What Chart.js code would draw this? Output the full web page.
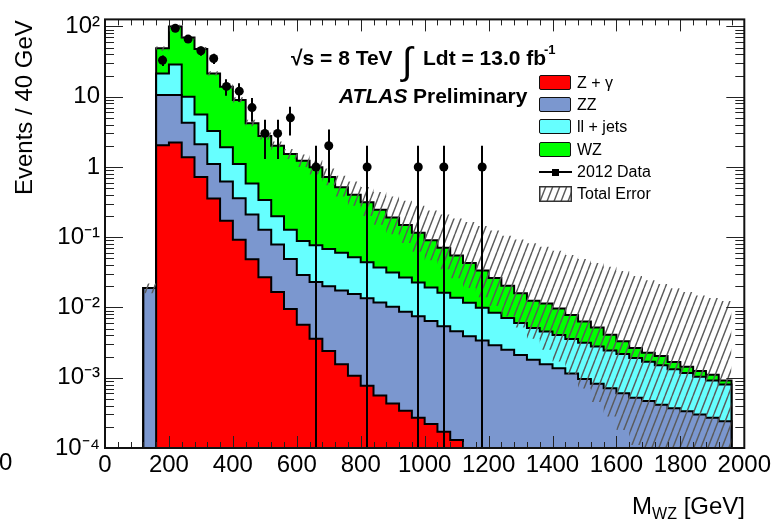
<!DOCTYPE html>
<html><head><meta charset="utf-8">
<script src="https://cdn.jsdelivr.net/npm/chart.js@4.4.1/dist/chart.umd.min.js"></script>
<style>
html,body{margin:0;padding:0;background:#fff;}
#wrap{position:relative;width:774px;height:522px;overflow:hidden;font-family:'Liberation Sans',Arial,Helvetica,sans-serif;color:#000;}
#c{position:absolute;left:0;top:0;}
.t{position:absolute;white-space:nowrap;}
.box{position:absolute;left:539px;width:30px;height:13px;border:1.5px solid #111;border-radius:2px;}
</style></head><body>
<div id="wrap">
<canvas id="c" width="774" height="522"></canvas>
</div>
<script>
// ---- data ----
const BIN_EDGES = [120,160,200,240,280,320,360,400,440,480,520,560,600,640,680,720,760,800,840,880,920,960,1000,1040,1080,1120,1160,1200,1240,1280,1320,1360,1400,1440,1480,1520,1560,1600,1640,1680,1720,1760,1800,1840,1880,1920,1960];
// cumulative stack heights (events / 40 GeV) per bin
const stackZgamma = [0,2.04,2.23,1.37,0.72,0.357,0.172,0.092,0.0486,0.027,0.0166,0.0095,0.0057,0.0036,0.0024,0.00156,0.00107,0.00077,0.00056,0.00043,0.00034,0.00027,0.00022,0.00017,0.00013,0,0,0,0,0,0,0,0,0,0,0,0,0,0,0,0,0,0,0,0,0];
const stackZZ = [0.019,10.6,10.6,4.25,2.11,1.1,0.62,0.36,0.21,0.128,0.079,0.049,0.029,0.023,0.020,0.0175,0.0155,0.0135,0.0118,0.0102,0.0087,0.0075,0.0064,0.0054,0.0046,0.0039,0.0034,0.0029,0.0025,0.0021,0.0018,0.00156,0.00137,0.00115,0.00096,0.00082,0.00071,0.0006,0.00052,0.000465,0.000414,0.000367,0.000333,0.0003,0.000269,0.000241];
const stackLLjets = [0.019,21.4,28.6,10.0,5.56,3.25,1.90,1.10,0.58,0.338,0.198,0.128,0.088,0.077,0.068,0.060,0.052,0.044,0.037,0.0315,0.0267,0.0227,0.0192,0.0162,0.0138,0.0117,0.0099,0.0084,0.0071,0.0060,0.0051,0.00456,0.00405,0.00356,0.00315,0.00278,0.00245,0.00217,0.00191,0.00169,0.0015,0.00132,0.00117,0.00103,0.00091,0.0008];
const stackWZ = [0.019,48.8,100,69.6,47.9,21.4,13.9,9.0,4.2,2.75,2.0,1.53,1.23,0.99,0.72,0.514,0.401,0.314,0.245,0.191,0.149,0.116,0.0906,0.0706,0.0551,0.0431,0.0336,0.0262,0.0204,0.0159,0.0125,0.0114,0.0097,0.0078,0.0063,0.0052,0.0041,0.0033,0.00266,0.00226,0.00204,0.00168,0.00143,0.00125,0.0011,0.00091];
// total error band edges
const totalErrUp = [0.022,52,106,74,51,23,15,9.8,4.7,3.1,2.3,1.8,1.5,1.25,0.95,0.75,0.62,0.52,0.44,0.38,0.33,0.28,0.24,0.21,0.185,0.165,0.145,0.125,0.105,0.093,0.082,0.073,0.064,0.056,0.049,0.043,0.038,0.033,0.028,0.0245,0.0215,0.0188,0.0166,0.0148,0.0136,0.0124];
const totalErrLow = [0.016,45,94,65,45,20,12.9,8.3,3.8,2.45,1.75,1.3,1.0,0.78,0.55,0.38,0.28,0.2,0.15,0.11,0.083,0.062,0.047,0.035,0.026,0.019,0.014,0.0105,0.0075,0.0052,0.0036,0.0025,0.0017,0.0011,0.0007,0.00045,0.00028,0.00018,0.00011,0,0,0,0,0,0,0];
// 2012 data
const dataMass = [180,220,260,300,340,380,420,460,500,540,580,660,700,820,980,1060,1180];
const dataEvents = [33,94,66,45,35,14,12,7,3,3,5,1,2,1,1,1,1];
const dataErr = [5.7,9.7,8.1,6.7,5.9,3.7,3.5,2.6,1.7,1.7,2.2,1,1.4,1,1,1,1];
// axes
const X_MIN = 0, X_MAX = 2000, X_STEP = 200, X_MINOR = 40;
const Y_MIN = 1e-4, Y_MAX = 125.9;
const Y_TICK_LABELS = {'-4':'10\u207B\u2074','-3':'10\u207B\u00B3','-2':'10\u207B\u00B2','-1':'10\u207B\u00B9','0':'1','1':'10','2':'10\u00B2'};
const COLORS = {zgamma:'#ff0000', zz:'#7b97cf', lljets:'#66ffff', wz:'#00ff00', hatch:'#5a5a5a'};

// ---- helpers ----
function stepPoints(vals){
  const f = v => (v > 0 ? v : Y_MIN);
  const n = vals.length;
  const pts = [{x: BIN_EDGES[0], y: Y_MIN}];
  for (let i = 0; i < n; i++) pts.push({x: BIN_EDGES[i], y: f(vals[i])});
  pts.push({x: BIN_EDGES[n], y: f(vals[n-1])});
  pts.push({x: BIN_EDGES[n], y: Y_MIN});
  return pts;
}
function makeHatch(ctx){
  const w = 7, h = 18;
  const c = document.createElement('canvas'); c.width = w; c.height = h;
  const g = c.getContext('2d');
  g.strokeStyle = COLORS.hatch; g.lineWidth = 1.4;
  for (const dx of [-w, 0, w]) { g.beginPath(); g.moveTo(dx, h); g.lineTo(dx + w, 0); g.stroke(); }
  return ctx.createPattern(c, 'repeat');
}

Chart.defaults.font.family = "'Liberation Sans', Arial, Helvetica, sans-serif";
Chart.defaults.color = '#000';
const canvas = document.getElementById('c');
const ctx = canvas.getContext('2d');
const hatch = makeHatch(ctx);

// 'before': horizontal at the bin value up to the next edge, then vertical
const stepDs = (label, vals, color, order) => ({
  label, data: stepPoints(vals), stepped: 'before', borderColor: '#000', borderWidth: 2,
  backgroundColor: color, fill: 'start', pointRadius: 0, order
});

const decorPlugin = {
  id: 'decor',
  afterDatasetsDraw(chart){
    const {ctx, chartArea: a, scales: {x, y}} = chart;
    ctx.save();
    ctx.beginPath(); ctx.rect(a.left, a.top, a.right - a.left, a.bottom - a.top); ctx.clip();
    ctx.strokeStyle = '#000'; ctx.lineWidth = 2;
    dataMass.forEach((m, i) => {
      const lo = dataEvents[i] - dataErr[i] > 0 ? dataEvents[i] - dataErr[i] : Y_MIN;
      const hi = dataEvents[i] + dataErr[i];
      const px = Math.round(x.getPixelForValue(m));
      ctx.beginPath(); ctx.moveTo(px, y.getPixelForValue(lo)); ctx.lineTo(px, y.getPixelForValue(hi)); ctx.stroke();
    });
    ctx.restore();
    ctx.save();
    ctx.strokeStyle = '#222'; ctx.lineWidth = 1;
    ctx.beginPath();
    for (let v = X_MIN; v <= X_MAX; v += X_MINOR) {
      const px = Math.round(x.getPixelForValue(v)) + 0.5;
      const len = (v % X_STEP === 0) ? 12 : 6;
      ctx.moveTo(px, a.bottom); ctx.lineTo(px, a.bottom - len);
      ctx.moveTo(px, a.top); ctx.lineTo(px, a.top + len);
    }
    for (let e = -4; e <= 2; e++) {
      for (let m = 1; m <= 9; m++) {
        const v = m * Math.pow(10, e);
        if (v < Y_MIN || v > Y_MAX) continue;
        const py = Math.round(y.getPixelForValue(v)) + 0.5;
        const len = m === 1 ? 18 : 9;
        ctx.moveTo(a.left, py); ctx.lineTo(a.left + len, py);
        ctx.moveTo(a.right, py); ctx.lineTo(a.right - len, py);
      }
    }
    ctx.stroke();
    ctx.strokeStyle = '#111'; ctx.lineWidth = 2;
    ctx.strokeRect(a.left, a.top, a.right - a.left, a.bottom - a.top);
    ctx.restore();
  }
};

new Chart(ctx, {
  type: 'line',
  data: { datasets: [
    { label: '2012 Data', data: dataMass.map((m, i) => ({x: m, y: dataEvents[i]})), showLine: false,
      pointRadius: 4.5, pointBackgroundColor: '#000', pointBorderColor: '#000', pointBorderWidth: 0, order: 0 },
    { label: 'Total Error', data: stepPoints(totalErrUp), stepped: 'before', borderWidth: 0, borderColor: 'rgba(0,0,0,0)',
      backgroundColor: hatch, fill: '+1', pointRadius: 0, order: 1 },
    { label: 'errLow', data: stepPoints(totalErrLow), stepped: 'before', borderWidth: 0, borderColor: 'rgba(0,0,0,0)',
      fill: false, pointRadius: 0, order: 1 },
    stepDs('Z + \u03B3', stackZgamma, COLORS.zgamma, 2),
    stepDs('ZZ', stackZZ, COLORS.zz, 3),
    stepDs('ll + jets', stackLLjets, COLORS.lljets, 4),
    stepDs('WZ', stackWZ, COLORS.wz, 5)
  ]},
  options: {
    responsive: false, animation: false, events: [],
    layout: { padding: { left: 0, top: 12, right: 29, bottom: 0 } },
    plugins: { legend: { display: false }, tooltip: { enabled: false } },
    scales: {
      x: { type: 'linear', min: X_MIN, max: X_MAX,
        grid: { display: false, drawTicks: false }, border: { display: false },
        ticks: { stepSize: X_STEP, autoSkip: false, maxRotation: 0, padding: 3, font: { size: 24 }, color: '#000',
          callback: v => String(v) },
        afterFit: s => { s.height = 74; } },
      y: { type: 'logarithmic', min: Y_MIN, max: Y_MAX,
        grid: { display: false, drawTicks: false }, border: { display: false },
        ticks: { autoSkip: false, padding: 5, font: { size: 24 }, color: '#000',
          callback: v => { const e = Math.round(Math.log10(v)); const p = Math.pow(10, e);
            return Math.abs(v - p) < 1e-6 * p ? (Y_TICK_LABELS[e] || '') : ''; } },
        afterFit: s => { s.width = 105; } }
    }
  },
  plugins: [decorPlugin]
});

// ---- text overlays ----
const wrap = document.getElementById('wrap');
function txt(s, x, base, size, opts = {}){
  const d = document.createElement('div'); d.className = 't';
  d.textContent = s;
  d.style.fontSize = size + 'px'; d.style.lineHeight = size + 'px';
  d.style.top = (base - 0.8465 * size) + 'px';
  d.style.left = x + 'px';
  if (opts.bold) d.style.fontWeight = 'bold';
  if (opts.italic) d.style.fontStyle = 'italic';
  if (opts.style) Object.assign(d.style, opts.style);
  wrap.appendChild(d); return d;
}
txt('\u221As = 8 TeV', 291, 65, 21, {bold: true});
txt('\u222B', 402, 74, 38, {style: {fontWeight: 'normal'}});
txt('Ldt = 13.0 fb', 423, 65, 21, {bold: true});
txt('-1', 544, 54, 13, {bold: true});
txt('ATLAS', 339, 103, 21, {bold: true, italic: true});
txt('Preliminary', 413, 103, 21, {bold: true});

// legend
const legendRows = [
  {label: 'Z + \u03B3', color: COLORS.zgamma, cy: 83},
  {label: 'ZZ', color: COLORS.zz, cy: 105},
  {label: 'll + jets', color: COLORS.lljets, cy: 127},
  {label: 'WZ', color: COLORS.wz, cy: 149.5}
];
legendRows.forEach(r => {
  const b = document.createElement('div'); b.className = 'box';
  b.style.top = (r.cy - 8) + 'px'; b.style.background = r.color; wrap.appendChild(b);
  txt(r.label, 577, r.cy + 5.7, 16);
});
const ln = document.createElement('div');
Object.assign(ln.style, {position: 'absolute', left: '539px', top: '171px', width: '33px', height: '2px', background: '#000'});
wrap.appendChild(ln);
const mk = document.createElement('div');
Object.assign(mk.style, {position: 'absolute', left: '552px', top: '168.5px', width: '7px', height: '7px', background: '#000'});
wrap.appendChild(mk);
txt('2012 Data', 577, 177.7, 16);
const hc = document.createElement('canvas'); hc.width = 33; hc.height = 16;
Object.assign(hc.style, {position: 'absolute', left: '539px', top: '186px'});
const hg = hc.getContext('2d'); hg.fillStyle = '#fff'; hg.fillRect(0, 0, 33, 16);
hg.fillStyle = makeHatch(hg); hg.fillRect(1, 1, 31, 14);
hg.strokeStyle = '#333'; hg.lineWidth = 1.5; hg.strokeRect(0.75, 0.75, 31.5, 14.5);
wrap.appendChild(hc);
txt('Total Error', 577, 199.7, 16);

// axis titles
const xt = document.createElement('div'); xt.className = 't';
Object.assign(xt.style, {right: '29px', top: (514 - 0.8465 * 24) + 'px', fontSize: '24px', lineHeight: '24px'});
xt.innerHTML = 'M<span style="font-size:16px;line-height:0;vertical-align:-5px">WZ</span> [GeV]';
wrap.appendChild(xt);
const yt = txt('Events / 40 GeV', 0, 0, 24);
Object.assign(yt.style, {left: '11.5px', top: '195px', transformOrigin: '0 0', transform: 'rotate(-90deg)'});
txt('0', -1, 470, 24);
</script>
</body></html>
